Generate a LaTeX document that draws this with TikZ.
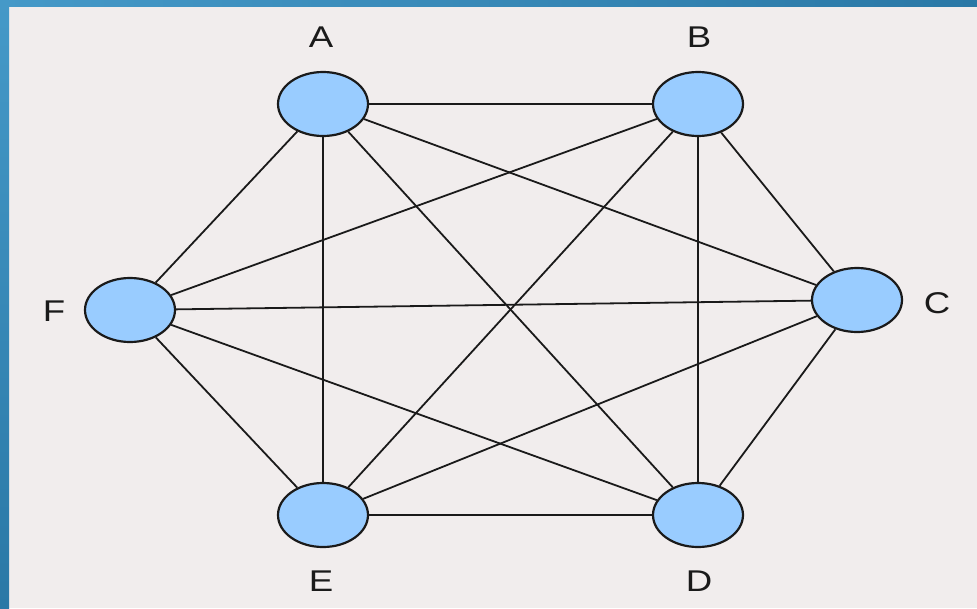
\documentclass[tikz,border=0pt]{standalone}
\usepackage{fontspec}
\setmainfont{Liberation Sans}
\usetikzlibrary{shapes.geometric}
\definecolor{pagebg}{HTML}{F1EDED}
\definecolor{bandlight}{HTML}{4599C8}
\definecolor{banddark}{HTML}{2A78A6}
\definecolor{vertexfill}{HTML}{99CCFF}
\definecolor{ink}{HTML}{1A1A1A}
\tikzset{
  vertex/.style={ellipse, draw=ink, line width=2.2pt, fill=vertexfill,
    minimum width=90pt, minimum height=64pt, inner sep=0pt},
  vlabel/.style={font=\fontsize{30}{31}\selectfont, text=ink, inner sep=0pt, xscale=1.22},
  edge/.style={draw=ink, line width=1.8pt}
}
\begin{document}
\begin{tikzpicture}[x=1pt, y=-1pt]
  % page and frame
  \useasboundingbox (0,0) rectangle (977,608);
  \fill[pagebg] (0,0) rectangle (977,608);
  \shade[left color=bandlight, right color=banddark] (0,0) rectangle (977,6);
  \shade[top color=bandlight, bottom color=banddark] (0,0) rectangle (9,608);

  % vertices
  \node[vertex] (A) at (323,104) {};
  \node[vertex] (B) at (698,104) {};
  \node[vertex] (C) at (857,300) {};
  \node[vertex] (D) at (698,515) {};
  \node[vertex] (E) at (323,515) {};
  \node[vertex] (F) at (130,310) {};

  % labels
  \node[vlabel] (lA) at (321,37) {A};
  \node[vlabel] (lB) at (699,37) {B};
  \node[vlabel] (lC) at (937,303) {C};
  \node[vlabel] (lD) at (699,581) {D};
  \node[vlabel] (lE) at (321,581) {E};
  \node[vlabel] (lF) at (54,311) {F};

  % all fifteen edges of the complete graph
  \foreach \u/\v in {A/B,A/C,A/D,A/E,A/F,B/C,B/D,B/E,B/F,C/D,C/E,C/F,D/E,D/F,E/F}
    \draw[edge] (\u) -- (\v);
\end{tikzpicture}
\end{document}
